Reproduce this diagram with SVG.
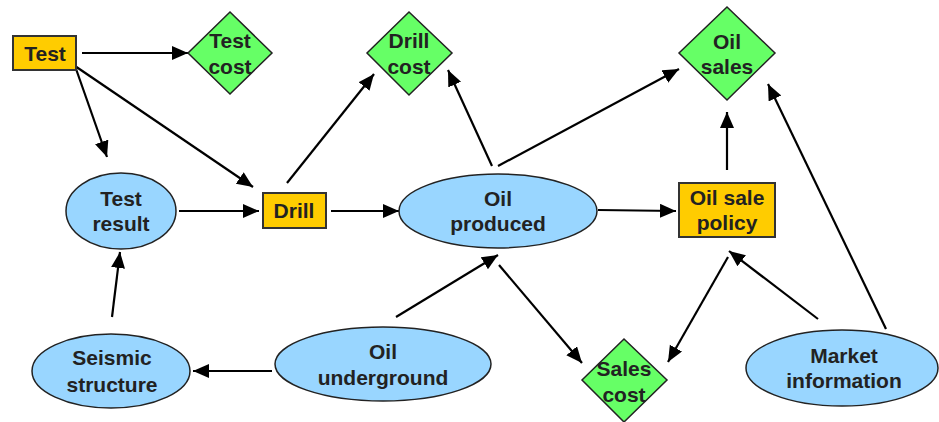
<svg xmlns="http://www.w3.org/2000/svg" width="939" height="422" viewBox="0 0 939 422">
<style>
.t{font-family:"Liberation Sans",Arial,sans-serif;font-weight:bold;font-size:21px;fill:#222;text-anchor:middle}
.dec{fill:#FFCC00;stroke:#333;stroke-width:2}
.chance{fill:#99D6FF;stroke:#222;stroke-width:1.5}
.util{fill:#66FF66;stroke:#222;stroke-width:1.5}
.c line{stroke:#000;stroke-width:2.2;marker-end:url(#ah)}
</style>
<defs>
<marker id="ah" markerUnits="userSpaceOnUse" markerWidth="17" markerHeight="15" refX="16" refY="7" orient="auto">
<path d="M0,0 L16,7 L0,14 Z" fill="#000"/>
</marker>
</defs>
<rect width="939" height="422" fill="#fff"/>
<g class="c" id="connectors">
<line x1="82" y1="53" x2="188" y2="53"/>
<line x1="75" y1="66" x2="107" y2="157"/>
<line x1="75" y1="66" x2="253" y2="187"/>
<line x1="179" y1="211" x2="259" y2="211"/>
<line x1="331" y1="211" x2="399" y2="211"/>
<line x1="287" y1="183" x2="374" y2="74"/>
<line x1="492" y1="166" x2="448" y2="70"/>
<line x1="498" y1="166" x2="679" y2="69"/>
<line x1="598" y1="210" x2="676" y2="211"/>
<line x1="727" y1="170" x2="727" y2="112"/>
<line x1="886" y1="329" x2="768" y2="84"/>
<line x1="818" y1="319" x2="729" y2="251"/>
<line x1="728" y1="257" x2="668" y2="362"/>
<line x1="499" y1="265" x2="582" y2="363"/>
<line x1="396" y1="317" x2="498" y2="255"/>
<line x1="272" y1="371" x2="193" y2="371"/>
<line x1="112" y1="317" x2="120" y2="252"/>
</g>
<g id="test"><rect class="dec" x="13" y="36" width="63" height="34"/><text class="t" x="45" y="61">Test</text></g>
<g id="test-cost"><path class="util" d="M230,12 L272,53 L230,94 L188,53 Z"/><text class="t" x="230" y="48">Test</text><text class="t" x="230" y="74">cost</text></g>
<g id="drill-cost"><path class="util" d="M409,12 L452,53 L409,95 L367,53 Z"/><text class="t" x="409" y="48">Drill</text><text class="t" x="409" y="74">cost</text></g>
<g id="oil-sales"><path class="util" d="M727,7 L775,53 L727,100 L679,53 Z"/><text class="t" x="727" y="49">Oil</text><text class="t" x="727" y="74">sales</text></g>
<g id="test-result"><ellipse class="chance" cx="121" cy="211" rx="55" ry="38"/><text class="t" x="121" y="206">Test</text><text class="t" x="121" y="231">result</text></g>
<g id="drill"><rect class="dec" x="263" y="193" width="63" height="35"/><text class="t" x="294" y="218">Drill</text></g>
<g id="oil-produced"><ellipse class="chance" cx="498" cy="211" rx="99" ry="37"/><text class="t" x="498" y="206">Oil</text><text class="t" x="498" y="231">produced</text></g>
<g id="oil-sale-policy"><rect class="dec" x="679" y="183" width="96" height="54"/><text class="t" x="727" y="205">Oil sale</text><text class="t" x="727" y="230">policy</text></g>
<g id="seismic-structure"><ellipse class="chance" cx="111" cy="371" rx="79" ry="37"/><text class="t" x="112" y="365">Seismic</text><text class="t" x="112" y="392">structure</text></g>
<g id="oil-underground"><ellipse class="chance" cx="383" cy="364" rx="108" ry="37"/><text class="t" x="383" y="359">Oil</text><text class="t" x="383" y="385">underground</text></g>
<g id="sales-cost"><path class="util" d="M624,339 L667,380 L624,422 L582,380 Z"/><text class="t" x="624" y="376">Sales</text><text class="t" x="624" y="402">cost</text></g>
<g id="market-information"><ellipse class="chance" cx="842" cy="368" rx="96" ry="38"/><text class="t" x="844" y="363">Market</text><text class="t" x="844" y="388">information</text></g>
</svg>
